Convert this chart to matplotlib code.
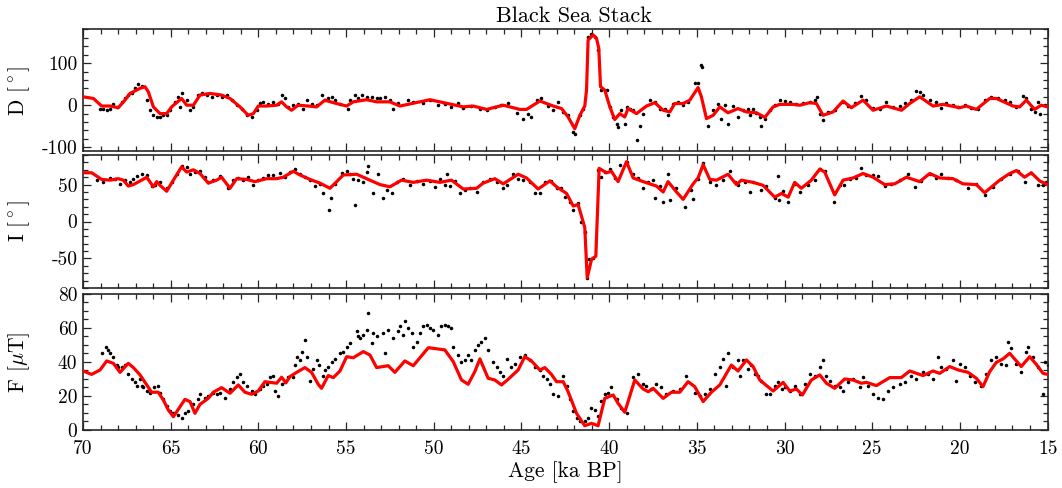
"""Black Sea Stack: declination, inclination and intensity vs age (dots = data, red = stack)."""

import numpy as np
import matplotlib
matplotlib.use("Agg")
import matplotlib.pyplot as plt
from matplotlib.ticker import MultipleLocator

plt.rcParams["font.family"] = "cmr10"
plt.rcParams["mathtext.fontset"] = "cm"
plt.rcParams["axes.unicode_minus"] = False
plt.rcParams["axes.formatter.use_mathtext"] = False

# ---- red stack curves (age in ka BP) ----
D_age = [70.0, 69.41, 68.94, 68.46, 67.99, 67.61, 67.32, 66.75, 66.47, 66.28,
         65.99, 65.61, 65.23, 64.95, 64.38, 64.09, 63.71, 63.33, 62.76, 62.10,
         61.62, 61.05, 60.58, 60.29, 60.01, 59.53, 58.96, 58.68, 58.39, 58.11,
         57.73, 57.16, 56.68, 56.21, 55.73, 54.97, 54.59, 53.83, 53.26, 52.50,
         51.93, 50.22, 48.32, 47.75, 46.99, 46.04, 45.09, 44.71, 43.95, 43.19,
         42.71, 42.34, 41.96, 41.67, 41.39, 41.29, 41.20, 40.91, 40.72, 40.59,
         40.49, 40.25, 39.96, 39.68, 39.39, 39.11, 38.92, 38.44, 37.87, 37.40,
         36.92, 36.54, 36.26, 35.78, 35.40, 34.93, 34.74, 34.45, 34.07, 33.69,
         33.22, 32.65, 32.17, 31.60, 31.12, 30.65, 30.27, 29.51, 29.13, 28.56,
         28.18, 27.80, 27.23, 26.66, 26.19, 25.52, 24.95, 24.19, 23.33, 22.86,
         22.29, 21.53, 20.96, 20.01, 19.63, 19.06, 18.30, 17.92, 16.97, 16.59,
         16.21, 15.74, 15.36, 15.0]
D_stack = [20, 16, -2, -2, -6, 12, 28, 40, 44, 32,
           -4, -20, -20, -4, 16, 0, 0, 24, 28, 24,
           16, -4, -24, -20, -2, -2, 0, 8, -4, -12,
           0, -2, -4, 12, 6, -2, 8, 13, 8, 8,
           -2, 13, -4, -2, -10, 0, -10, -10, 10, -2,
           -8, -28, -56, -24, -2, 36, 155, 167, 159, 135,
           44, 36, -4, -34, -20, -28, -8, -20, -2, 6,
           -12, -16, 4, 4, 12, 42, 20, -32, -24, -4,
           -18, -8, -16, -18, -29, -4, 2, 2, 0, 6,
           4, -24, -16, 10, -6, 12, -12, -2, -12, 4,
           20, -2, 2, -6, -2, -10, 16, 16, -2, -4,
           12, -10, 0, -4]

I_age = [70.0, 69.51, 68.94, 68.46, 67.99, 67.70, 67.42, 67.13, 66.66, 66.37,
         65.99, 65.80, 65.61, 65.23, 64.85, 64.38, 64.09, 63.71, 63.33, 62.86,
         62.38, 62.10, 61.62, 61.24, 60.67, 60.20, 59.53, 58.96, 58.58, 58.01,
         57.63, 57.06, 56.49, 55.92, 55.54, 55.16, 54.40, 53.64, 53.07, 52.50,
         51.84, 51.17, 50.41, 49.65, 48.99, 48.32, 47.56, 47.18, 46.52, 46.04,
         45.19, 44.71, 44.05, 43.38, 43.00, 42.43, 42.05, 41.77, 41.39, 41.25,
         41.00, 40.76, 40.57, 40.15, 39.87, 39.49, 39.01, 38.63, 38.06, 37.30,
         36.92, 36.64, 36.16, 35.78, 35.21, 34.93, 34.64, 34.26, 33.88, 33.22,
         32.74, 32.46, 31.79, 31.22, 30.56, 30.17, 29.79, 29.42, 29.04, 28.47,
         27.99, 27.71, 27.14, 26.66, 26.09, 25.52, 24.95, 24.29, 23.72, 23.05,
         22.29, 21.72, 21.15, 20.39, 19.82, 19.06, 18.59, 17.73, 17.16, 16.78,
         16.31, 15.93, 15.45, 15.0]
I_stack = [66, 66, 57, 56, 58, 56, 48, 50, 56, 60,
           47, 54, 49, 41, 56, 74, 67, 70, 65, 52,
           56, 60, 45, 58, 57, 54, 58, 58, 60, 68,
           63, 57, 52, 45, 54, 63, 64, 56, 50, 47,
           56, 53, 56, 53, 56, 44, 45, 52, 58, 51,
           64, 59, 44, 55, 47, 38, 21, 23, -8, -76,
           -51, -47, 72, 66, 68, 54, 81, 59, 54, 48,
           40, 54, 40, 30, 51, 59, 77, 57, 56, 64,
           50, 56, 53, 49, 33, 38, 33, 53, 45, 56,
           71, 67, 36, 56, 59, 65, 60, 50, 51, 60,
           54, 65, 59, 58, 51, 50, 39, 56, 65, 69,
           60, 66, 55, 50]

F_age = [70.0, 69.51, 69.03, 68.65, 68.27, 67.89, 67.42, 67.13, 66.75, 66.37,
         66.09, 65.71, 65.42, 65.14, 64.85, 64.47, 64.19, 63.90, 63.62, 63.33,
         62.86, 62.57, 62.10, 61.62, 61.15, 60.77, 60.39, 60.01, 59.63, 59.34,
         58.96, 58.68, 58.43, 58.20, 57.82, 57.35, 56.97, 56.59, 56.40, 56.02,
         55.73, 55.35, 54.97, 54.59, 54.02, 53.64, 53.26, 52.60, 52.22, 51.65,
         51.17, 50.31, 49.37, 48.89, 48.42, 48.04, 47.66, 47.37, 46.90, 46.52,
         46.14, 45.76, 45.19, 44.81, 44.43, 43.95, 43.67, 43.29, 43.00, 42.62,
         42.34, 41.86, 41.39, 41.01, 40.63, 40.25, 39.77, 39.49, 39.11, 38.54,
         38.06, 37.77, 37.49, 36.92, 36.45, 35.97, 35.50, 35.12, 34.64, 34.17,
         33.69, 33.03, 32.65, 32.17, 31.79, 31.41, 30.65, 30.08, 29.70, 29.32,
         28.98, 28.47, 27.99, 27.61, 27.14, 26.57, 26.09, 25.62, 25.33, 24.76,
         24.00, 23.34, 22.86, 22.10, 21.53, 21.15, 20.58, 20.10, 19.53, 19.06,
         18.68, 18.30, 17.92, 17.54, 17.16, 16.88, 16.50, 16.02, 15.64, 15.26,
         15.0]
F_stack = [34.7, 32.7, 35.3, 40.6, 39.2, 33.9, 39.2, 36.7, 32.4, 26.5,
           22.2, 22.2, 17.6, 11.8, 7.8, 13.7, 18.0, 16.7, 9.8, 15.1,
           18.6, 22.2, 24.9, 21.6, 26.5, 22.2, 21.0, 22.9, 28.4, 28.0,
           27.5, 31.0, 27.8, 31.4, 33.9, 36.7, 33.9, 26.9, 24.5, 32.0,
           30.8, 34.7, 43.1, 42.5, 46.1, 44.1, 36.7, 37.8, 33.9, 40.6,
           37.8, 48.4, 47.1, 40.2, 29.4, 26.9, 34.3, 41.8, 30.4, 29.4,
           26.5, 29.8, 35.3, 43.1, 40.6, 35.3, 36.7, 32.7, 28.4, 28.4,
           22.5, 9.8, 2.5, 3.9, 2.5, 18.6, 20.6, 15.7, 10.4, 29.4,
           24.1, 22.5, 24.5, 18.6, 22.2, 22.2, 28.4, 25.5, 16.7, 22.2,
           26.5, 38.2, 34.7, 41.2, 37.3, 29.4, 22.9, 28.0, 22.9, 24.1,
           20.6, 29.4, 32.4, 27.5, 24.5, 30.0, 29.4, 27.5, 28.0, 26.1,
           30.8, 30.8, 34.7, 32.0, 34.7, 33.3, 37.3, 35.3, 33.9, 30.4,
           25.5, 34.3, 39.8, 41.8, 45.1, 41.8, 37.3, 43.1, 38.6, 33.3,
           32.7]

# ---- individual records (age, value) ----
D_dots = [
    (69.03, -8), (68.84, -10), (68.65, -12), (68.46, -8), (68.27, 4), (68.08, -4),
    (67.80, 8), (67.61, 16), (67.42, 24), (67.23, 29), (67.04, 42), (66.85, 50),
    (66.66, 45), (66.37, 12), (66.18, -12), (65.99, -24), (65.80, -28), (65.61, -29),
    (65.42, -24), (65.23, -24), (65.04, -12), (64.76, 8), (64.57, 20), (64.38, 28),
    (64.47, -4), (64.09, 12), (63.90, -12), (63.71, -4), (63.43, 24), (63.24, 28),
    (62.95, 24), (62.67, 20), (62.38, 24), (62.10, 20), (61.81, 24), (61.53, 12),
    (61.24, 0), (60.96, -8), (60.67, -24), (60.39, -28), (60.10, -12), (59.91, 6),
    (59.72, 8), (59.44, 4), (59.15, 8), (58.87, 2), (58.68, 24), (58.49, 16),
    (58.30, -4), (58.01, 0), (57.73, 4), (57.44, -8), (57.25, 12), (56.97, 4),
    (56.68, 0), (56.40, 24), (56.21, 12), (56.02, 16), (55.83, 20), (55.64, 12),
    (55.35, 4), (54.88, -8), (54.78, 12), (54.50, 24), (54.31, 16), (54.12, 24),
    (53.83, 20), (53.55, 20), (53.26, 16),
    (53.07, 16), (52.79, 20), (52.50, 13), (52.31, -8), (52.03, 6), (51.46, 13),
    (51.17, 8), (50.60, 6), (50.22, 12), (49.75, 0), (49.37, 4), (48.99, -4),
    (48.61, 6), (48.32, -6), (47.85, -2), (47.37, -8), (46.99, -12), (46.52, -4),
    (46.14, 0), (45.76, 6), (45.28, -18), (44.90, -32), (44.62, -20), (44.43, -28),
    (44.14, 12), (43.86, 16), (43.48, -2), (43.19, -12), (42.91, 8), (42.62, -16),
    (42.34, -24), (42.05, -63), (41.96, -69), (41.67, -24), (41.48, -8), (41.20, 163),
    (41.01, 169), (40.82, 163), (40.63, 131), (40.44, 36), (40.15, 36), (39.96, -4),
    (39.77, -28), (39.58, -44), (39.49, -52), (39.30, -12), (39.11, -44), (39.01, -4),
    (38.82, -8), (38.63, -12), (38.44, -82), (38.25, -50), (38.06, -20), (37.68, 12),
    (37.40, 8), (37.11, -10), (36.83, -8), (36.64, -24), (36.35, 4), (36.07, 8),
    (35.78, 0), (35.50, 8), (35.12, 52), (34.93, 53), (34.77, 95), (34.68, 91),
    (34.36, -50), (34.07, -12), (33.79, 4), (33.60, -32), (33.41, 0), (33.22, -44),
    (32.93, -2), (32.65, -29),
    (32.36, -12), (32.08, -10), (31.98, -24), (31.79, -10), (31.60, -18), (31.41, -28),
    (31.32, -50), (31.13, -32), (30.84, -12), (30.56, 0), (30.27, 12), (29.99, 10),
    (29.70, 8), (29.32, 2), (28.94, 6), (28.56, 8), (28.28, 12), (28.14, 20),
    (27.99, -20), (27.80, -34), (27.52, -16), (27.14, -12), (26.66, 8), (26.37, -2),
    (25.99, 6), (25.62, 21), (25.33, 12), (24.95, -6), (24.57, -8), (24.19, 8),
    (23.81, -4), (23.43, -2), (23.15, 6), (22.77, 12), (22.48, 34), (22.29, 32),
    (22.10, 24), (21.72, 12), (21.34, 8), (21.06, -6), (20.77, 6), (20.39, 0),
    (20.11, -4), (19.73, 0), (19.35, -6), (18.97, -8), (18.59, 12), (18.21, 20),
    (17.83, 16), (17.45, 13), (17.16, 8), (16.78, -4), (16.40, 21), (16.21, 16),
    (15.93, -8), (15.74, -16), (15.55, 8), (15.45, -20), (15.17, 0),
]

I_dots = [
    (69.22, 56), (68.84, 54), (68.46, 59), (68.18, 58), (67.89, 51), (67.61, 56),
    (67.32, 54), (67.13, 58), (66.94, 62), (66.66, 64), (66.37, 63), (66.09, 48),
    (65.90, 49), (65.61, 53), (65.23, 45), (64.95, 54), (64.66, 65), (64.38, 75),
    (64.09, 74), (63.90, 65), (63.62, 67), (63.33, 68), (63.05, 60), (62.86, 54),
    (62.57, 56), (62.19, 62), (61.72, 45), (61.43, 56), (61.15, 59), (60.86, 56),
    (60.58, 60), (60.29, 50), (60.01, 56), (59.72, 59), (59.44, 63), (59.15, 63),
    (58.77, 66), (58.49, 60), (58.20, 67), (57.92, 71), (57.63, 64), (57.35, 60),
    (57.06, 56), (56.78, 48), (56.49, 51), (56.30, 39), (55.96, 15), (55.88, 32),
    (55.64, 51), (55.26, 66), (54.97, 68), (54.78, 65), (54.59, 57), (54.50, 22),
    (54.31, 56), (54.02, 54), (53.83, 67), (53.74, 75), (53.45, 38), (53.17, 65),
    (52.88, 32), (52.69, 42), (52.41, 39), (52.12, 54), (51.74, 58), (51.36, 50),
    (50.98, 55), (50.60, 51), (50.22, 55), (49.94, 47), (49.65, 57), (49.37, 50),
    (49.27, 64), (49.08, 48), (48.80, 55), (48.51, 38), (48.23, 42), (47.94, 45),
    (47.56, 40), (47.18, 54), (46.80, 57), (46.42, 54), (46.04, 45), (45.85, 50),
    (45.47, 64), (45.19, 58), (44.90, 56), (44.52, 54), (44.24, 39), (43.95, 39),
    (43.67, 54), (43.29, 55), (43.00, 45), (42.72, 45), (42.53, 33), (42.24, 27),
    (42.05, 15), (41.77, 25), (41.58, -1), (41.39, -14), (41.25, -76), (41.14, -51),
    (40.91, -49), (40.63, 70), (40.44, 60), (40.25, 67), (39.96, 71), (39.68, 59),
    (39.39, 77), (39.01, 81), (38.63, 64), (38.35, 59), (38.06, 45), (37.77, 54),
    (37.49, 56), (37.40, 32), (37.11, 48), (36.92, 26), (36.64, 65), (36.54, 29),
    (36.16, 45), (35.69, 20), (35.31, 42), (35.21, 30), (34.93, 57), (34.64, 79),
    (34.26, 54), (33.88, 49), (33.50, 56), (33.12, 68), (32.84, 54), (32.65, 50),
    (32.27, 54), (31.98, 40), (31.79, 54), (31.32, 42), (31.03, 48), (30.56, 32),
    (30.37, 62), (30.31, 29), (30.08, 41), (29.79, 26), (29.42, 51), (29.13, 40),
    (28.66, 50), (28.28, 56), (27.99, 71), (27.71, 69), (27.19, 27), (26.85, 50),
    (26.62, 49), (26.28, 58), (25.90, 59), (25.62, 73), (25.33, 63), (24.95, 63),
    (24.67, 62), (24.29, 48), (23.91, 51), (23.43, 56), (22.96, 64), (22.58, 47),
    (22.20, 55), (21.72, 64), (21.34, 59), (21.06, 64), (20.68, 59), (20.20, 56),
    (19.53, 45), (19.06, 51), (18.59, 36), (18.11, 47), (17.64, 57), (17.16, 65),
    (16.69, 69), (16.31, 54), (15.93, 66), (15.55, 49), (15.26, 50), (15.07, 54),
]

F_dots = [
    (68.94, 45), (68.69, 49), (68.56, 47), (68.46, 45), (68.27, 43), (68.08, 38),
    (67.99, 37), (67.80, 37), (67.61, 38), (67.42, 33), (67.23, 30), (67.04, 28),
    (66.94, 26), (66.75, 30), (66.66, 26), (66.56, 25), (66.37, 23), (66.18, 22),
    (65.95, 25), (65.71, 26), (65.61, 22), (65.42, 18), (65.23, 14), (65.04, 11),
    (64.85, 10), (64.57, 9), (64.38, 7), (64.19, 10), (64.00, 11), (63.71, 15),
    (63.43, 18), (63.33, 21), (63.05, 19), (62.86, 20), (62.57, 22), (62.38, 21),
    (62.19, 22), (61.91, 19), (61.62, 24), (61.43, 28), (61.24, 31), (61.05, 33),
    (60.86, 28), (60.67, 26), (60.39, 23), (60.20, 21), (59.91, 24), (59.72, 26),
    (59.53, 27), (59.34, 31), (59.15, 32), (59.06, 23), (58.87, 20), (58.68, 27),
    (58.49, 28), (58.30, 31), (58.01, 31), (57.92, 38), (57.82, 43), (57.63, 41),
    (57.54, 46), (57.35, 53), (57.25, 43), (57.06, 29), (56.87, 36), (56.68, 41),
    (56.53, 38), (56.34, 32), (56.21, 35), (56.02, 37), (55.83, 40), (55.64, 42),
    (55.35, 45), (55.16, 46), (54.97, 49), (54.78, 51), (54.40, 58), (54.31, 55),
    (54.21, 54), (54.02, 56), (53.83, 59), (53.74, 69), (53.55, 51), (53.45, 57),
    (53.26, 55),
    (52.88, 57), (52.79, 45), (52.60, 59), (52.31, 54), (52.03, 58), (51.93, 61),
    (51.74, 56), (51.65, 64), (51.46, 60), (51.27, 57), (51.17, 49), (50.98, 52),
    (50.79, 57), (50.60, 61), (50.41, 62), (50.22, 60), (50.03, 59), (49.75, 56),
    (49.56, 61), (49.37, 62), (49.18, 61), (48.99, 60), (48.89, 49), (48.61, 44),
    (48.42, 40), (48.23, 41), (48.04, 44), (47.85, 41), (47.66, 47), (47.47, 50),
    (47.28, 52), (47.09, 54), (46.90, 47), (46.61, 40), (46.42, 37), (46.23, 34),
    (46.04, 32), (45.85, 42), (45.57, 37), (45.38, 39), (45.09, 43), (44.81, 44),
    (44.52, 41), (44.24, 37), (43.95, 35), (43.76, 32), (43.57, 30), (43.38, 27),
    (43.19, 21), (42.91, 20), (42.62, 32), (42.43, 26), (42.24, 18), (42.05, 11),
    (41.86, 7), (41.67, 5), (41.39, 5), (41.20, 7), (41.01, 13), (40.82, 12),
    (40.63, 8), (40.44, 17), (40.25, 21), (40.06, 22), (39.87, 25), (39.58, 18),
    (39.30, 13), (39.01, 10), (38.63, 31), (38.35, 33), (38.06, 27), (37.87, 26),
    (37.59, 24), (37.30, 27), (37.02, 25), (36.73, 21), (36.35, 23), (35.97, 24),
    (35.59, 32), (35.12, 22), (34.83, 20), (34.55, 21), (34.26, 24), (33.98, 33),
    (33.69, 37), (33.50, 42), (33.31, 26), (33.22, 45), (32.93, 37), (32.65, 41),
    (32.55, 32), (32.36, 41), (32.08, 36), (31.89, 38), (31.70, 33), (31.51, 32),
    (31.32, 29), (31.03, 21), (30.84, 21), (30.56, 26), (30.37, 28), (30.17, 24),
    (29.99, 25), (29.70, 23), (29.42, 26), (29.13, 21), (28.85, 27), (28.56, 33),
    (28.28, 32), (27.99, 37), (27.80, 41), (27.61, 32), (27.42, 29), (27.14, 26),
    (26.85, 25), (26.66, 23), (26.37, 28), (26.09, 30), (25.71, 25), (25.52, 31),
    (25.24, 26), (24.95, 21), (24.67, 19), (24.38, 18), (24.10, 23), (23.81, 25),
    (23.43, 27), (23.15, 28), (22.77, 32), (22.48, 30), (22.10, 34), (21.82, 33),
    (21.53, 30), (21.25, 43), (21.06, 37), (20.77, 36), (20.39, 41), (20.20, 29),
    (20.01, 39), (19.73, 37), (19.44, 32), (19.16, 28), (18.78, 26), (18.49, 33),
    (18.21, 41), (17.92, 43), (17.64, 39), (17.35, 38), (17.26, 52), (17.07, 48),
    (16.78, 39), (16.50, 34), (16.21, 46), (16.12, 49), (15.84, 43), (15.55, 37),
    (15.26, 21), (15.17, 40), (15.0, 38),
]

panels = [
    ("D [$^\\circ$]", D_age, D_stack, D_dots, (-110, 180), 100, 20),
    ("I [$^\\circ$]", I_age, I_stack, I_dots, (-90, 90), 50, 10),
    ("F [$\\mu$T]", F_age, F_stack, F_dots, (0, 80), 20, 5),
]

fig = plt.figure(figsize=(10.62, 4.88), dpi=100)
left, width = 0.0782, 0.9082
boxes = [(0.6896, 0.2500), (0.4098, 0.2725), (0.1189, 0.2787)]
frame = "#262626"

for i, ((label, age, stack, dots, ylim, major, minor), (b, h)) in enumerate(zip(panels, boxes)):
    ax = fig.add_axes([left, b, width, h])
    dx, dy = zip(*dots)
    ax.scatter(dx, dy, s=6.5, c="k", linewidths=0, zorder=2)
    ax.plot(age, stack, color="red", lw=2.3, zorder=3, solid_joinstyle="round")
    ax.set_xlim(70, 15)
    ax.set_ylim(*ylim)
    ax.xaxis.set_major_locator(MultipleLocator(5))
    ax.xaxis.set_minor_locator(MultipleLocator(1))
    ax.yaxis.set_major_locator(MultipleLocator(major))
    ax.yaxis.set_minor_locator(MultipleLocator(minor))
    ax.tick_params(which="both", direction="in", top=True, right=True,
                   labelsize=14, color=frame, width=0.9, pad=4)
    ax.tick_params(axis="x", which="both", pad=7)
    ax.tick_params(which="major", length=5.8)
    ax.tick_params(which="minor", length=3.4)
    for sp in ax.spines.values():
        sp.set_linewidth(1.2)
        sp.set_color(frame)
    ax.set_ylabel(label, fontsize=15.5)
    ax.yaxis.set_label_coords(-0.053, 0.5)
    if i < 2:
        ax.tick_params(labelbottom=False)
    else:
        ax.set_xlabel("Age [ka BP]", fontsize=15.5, labelpad=2.5)
    if i == 0:
        ax.set_title("Black Sea Stack", fontsize=16, pad=5.5, x=0.509)

fig.savefig("out.png", dpi=100)
